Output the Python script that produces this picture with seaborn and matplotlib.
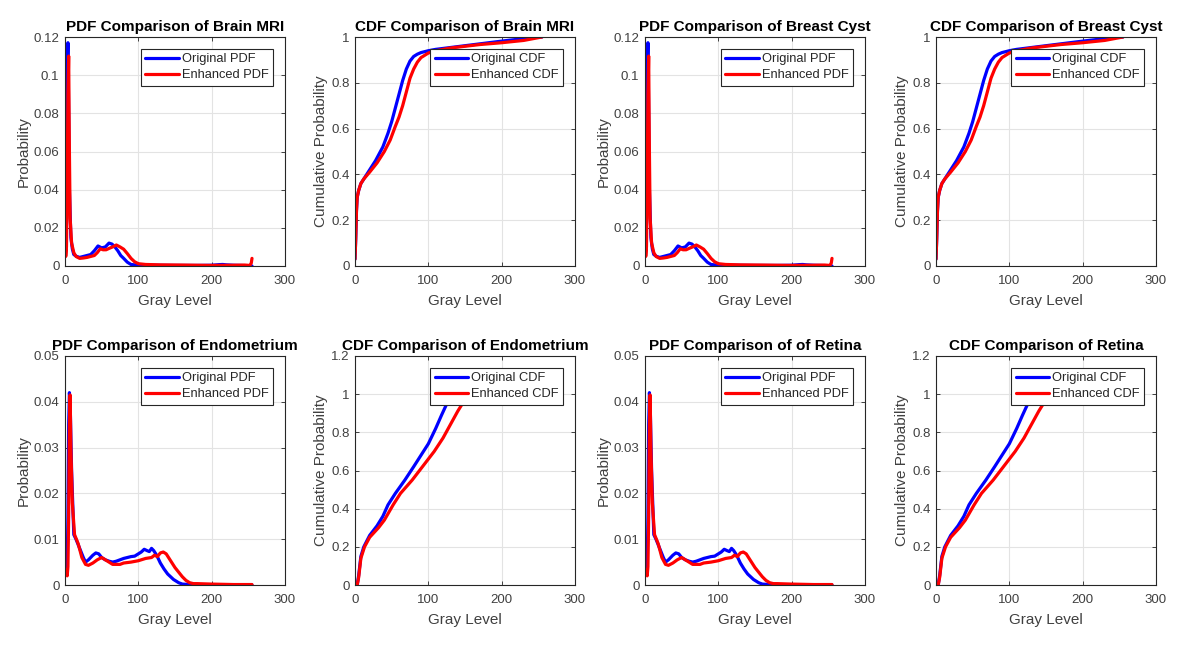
import numpy as np
import pandas as pd
import matplotlib
matplotlib.use("Agg")
import matplotlib.pyplot as plt
from matplotlib.ticker import FuncFormatter
import seaborn as sns

# ---------------- data ----------------
# Brain MRI PDF
brain_pdf_orig_x = [0, 1, 2, 3, 4, 5, 6, 8, 10, 12, 16, 20, 25, 30, 35, 40, 45, 50, 55, 60, 64, 68, 72, 76, 80, 85, 90, 95, 100, 120, 150, 180, 200, 210, 215, 220, 230, 240, 250, 255]
brain_pdf_orig_y = [0.006, 0.020, 0.075, 0.100, 0.117, 0.080, 0.040, 0.015, 0.009, 0.006, 0.005, 0.0045, 0.005, 0.0055, 0.006, 0.008, 0.0105, 0.0095, 0.010, 0.012, 0.0115, 0.010, 0.008, 0.0055, 0.004, 0.002, 0.0008, 0.0006, 0.0005, 0.0004, 0.0003, 0.0003, 0.0004, 0.0007, 0.0008, 0.0006, 0.0004, 0.0003, 0.0001, 0.0]
brain_pdf_enh_x = [0, 1, 2, 3, 4, 5, 6, 7, 9, 12, 15, 20, 25, 30, 35, 40, 44, 48, 52, 56, 60, 65, 70, 75, 80, 85, 90, 95, 100, 110, 130, 160, 200, 230, 245, 252, 254, 255]
brain_pdf_enh_y = [0.027, 0.005, 0.010, 0.040, 0.090, 0.110, 0.060, 0.025, 0.012, 0.007, 0.005, 0.004, 0.0042, 0.0045, 0.005, 0.0055, 0.007, 0.009, 0.0085, 0.0085, 0.0092, 0.0100, 0.0110, 0.0100, 0.0088, 0.0065, 0.004, 0.0022, 0.0012, 0.0008, 0.0006, 0.0005, 0.0003, 0.0004, 0.0005, 0.0003, 0.0015, 0.004]
# Brain MRI CDF
brain_cdf_orig_x = [0, 1, 2, 3, 5, 8, 12, 20, 28, 38, 45, 50, 55, 60, 65, 70, 75, 80, 85, 90, 100, 110, 150, 200, 230, 245, 255]
brain_cdf_orig_y = [0.03, 0.12, 0.24, 0.30, 0.33, 0.36, 0.38, 0.42, 0.46, 0.52, 0.58, 0.63, 0.69, 0.75, 0.81, 0.86, 0.895, 0.915, 0.925, 0.932, 0.940, 0.946, 0.962, 0.982, 0.993, 1.0, 1.0]
brain_cdf_enh_x = [0, 1, 2, 3, 5, 8, 12, 20, 30, 40, 48, 55, 60, 65, 70, 75, 80, 85, 90, 95, 100, 110, 130, 170, 200, 230, 255]
brain_cdf_enh_y = [0.03, 0.12, 0.24, 0.30, 0.33, 0.36, 0.38, 0.41, 0.45, 0.50, 0.55, 0.61, 0.65, 0.70, 0.76, 0.82, 0.86, 0.89, 0.91, 0.92, 0.93, 0.94, 0.952, 0.967, 0.975, 0.985, 1.0]

# Breast Cyst (looks identical to Brain MRI in the picture)
cyst_pdf_orig_x = list(brain_pdf_orig_x)
cyst_pdf_orig_y = list(brain_pdf_orig_y)
cyst_pdf_enh_x = list(brain_pdf_enh_x)
cyst_pdf_enh_y = list(brain_pdf_enh_y)
cyst_cdf_orig_x = list(brain_cdf_orig_x)
cyst_cdf_orig_y = list(brain_cdf_orig_y)
cyst_cdf_enh_x = list(brain_cdf_enh_x)
cyst_cdf_enh_y = list(brain_cdf_enh_y)

# Endometrium PDF
endo_pdf_orig_x = [0, 2, 3, 4, 5, 6, 7, 9, 12, 15, 20, 25, 28, 32, 38, 42, 46, 50, 55, 60, 65, 70, 75, 80, 85, 90, 95, 100, 104, 108, 112, 115, 118, 121, 125, 130, 135, 140, 148, 155, 160, 170, 180, 200, 230, 255]
endo_pdf_orig_y = [0.0035, 0.0035, 0.004, 0.015, 0.035, 0.042, 0.040, 0.025, 0.011, 0.010, 0.008, 0.006, 0.005, 0.0055, 0.0065, 0.007, 0.0068, 0.006, 0.0055, 0.0052, 0.005, 0.0052, 0.0055, 0.0058, 0.006, 0.0062, 0.0063, 0.0068, 0.0072, 0.0078, 0.0075, 0.0073, 0.008, 0.0075, 0.0065, 0.0048, 0.0035, 0.0024, 0.0012, 0.0005, 0.0002, 0.0001, 0.0001, 0.0, 0.0, 0.0]
endo_pdf_enh_x = [0, 2, 3, 4, 5, 6, 7, 8, 10, 13, 18, 23, 28, 32, 38, 44, 50, 55, 60, 65, 70, 75, 80, 90, 100, 110, 118, 122, 126, 130, 134, 138, 142, 146, 150, 155, 160, 165, 170, 175, 180, 200, 230, 255]
endo_pdf_enh_y = [0.0035, 0.0025, 0.002, 0.004, 0.015, 0.035, 0.0415, 0.030, 0.018, 0.011, 0.009, 0.006, 0.0045, 0.0043, 0.0048, 0.0055, 0.006, 0.0055, 0.005, 0.0045, 0.0045, 0.0045, 0.0048, 0.005, 0.0053, 0.0058, 0.006, 0.0065, 0.0062, 0.007, 0.0072, 0.0068, 0.0058, 0.0048, 0.0038, 0.0028, 0.0018, 0.001, 0.0005, 0.0003, 0.0003, 0.0002, 0.0001, 0.0001]
# Endometrium CDF
endo_cdf_orig_x = [0, 3, 5, 8, 12, 20, 30, 38, 45, 55, 68, 80, 90, 100, 110, 118, 124, 128, 133, 140, 200, 255]
endo_cdf_orig_y = [0.0, 0.0, 0.05, 0.15, 0.20, 0.26, 0.31, 0.36, 0.42, 0.48, 0.55, 0.62, 0.68, 0.74, 0.82, 0.89, 0.94, 0.97, 1.0, 1.0, 1.0, 1.0]
endo_cdf_enh_x = [0, 3, 5, 8, 13, 20, 32, 40, 52, 62, 78, 92, 108, 120, 130, 140, 148, 153, 160, 200, 255]
endo_cdf_enh_y = [0.0, 0.0, 0.04, 0.14, 0.20, 0.25, 0.30, 0.34, 0.42, 0.48, 0.55, 0.62, 0.70, 0.77, 0.84, 0.91, 0.96, 1.0, 1.0, 1.0, 1.0]

# Retina (looks identical to Endometrium in the picture)
ret_pdf_orig_x = list(endo_pdf_orig_x)
ret_pdf_orig_y = list(endo_pdf_orig_y)
ret_pdf_enh_x = list(endo_pdf_enh_x)
ret_pdf_enh_y = list(endo_pdf_enh_y)
ret_cdf_orig_x = list(endo_cdf_orig_x)
ret_cdf_orig_y = list(endo_cdf_orig_y)
ret_cdf_enh_x = list(endo_cdf_enh_x)
ret_cdf_enh_y = list(endo_cdf_enh_y)

titles = ["PDF Comparison of Brain MRI", "CDF Comparison of Brain MRI",
          "PDF Comparison of Breast Cyst", "CDF Comparison of Breast Cyst",
          "PDF Comparison of Endometrium", "CDF Comparison of Endometrium",
          "PDF Comparison of of Retina", "CDF Comparison of Retina"]
x_ticks = [0, 100, 200, 300]
pdf_top_yticks = [0, 0.02, 0.04, 0.06, 0.08, 0.1, 0.12]
cdf_top_yticks = [0, 0.2, 0.4, 0.6, 0.8, 1.0]
pdf_bot_yticks = [0, 0.01, 0.02, 0.03, 0.04, 0.05]
cdf_bot_yticks = [0, 0.2, 0.4, 0.6, 0.8, 1.0, 1.2]

# ---------------- style ----------------
sns.set_theme(style="white")
plt.rcParams['font.family'] = ['Liberation Sans', 'DejaVu Sans']
TXT = "#262626"
TICK = "#404040"

fig = plt.figure(figsize=(11.81, 6.45), dpi=100)
W, H = 1181, 645
lefts = [65, 355, 645, 936]
tops = [37, 356]
aw, ah = 220, 229

panels = [
    (brain_pdf_orig_x, brain_pdf_orig_y, brain_pdf_enh_x, brain_pdf_enh_y, "pdf", pdf_top_yticks),
    (brain_cdf_orig_x, brain_cdf_orig_y, brain_cdf_enh_x, brain_cdf_enh_y, "cdf", cdf_top_yticks),
    (cyst_pdf_orig_x, cyst_pdf_orig_y, cyst_pdf_enh_x, cyst_pdf_enh_y, "pdf", pdf_top_yticks),
    (cyst_cdf_orig_x, cyst_cdf_orig_y, cyst_cdf_enh_x, cyst_cdf_enh_y, "cdf", cdf_top_yticks),
    (endo_pdf_orig_x, endo_pdf_orig_y, endo_pdf_enh_x, endo_pdf_enh_y, "pdf", pdf_bot_yticks),
    (endo_cdf_orig_x, endo_cdf_orig_y, endo_cdf_enh_x, endo_cdf_enh_y, "cdf", cdf_bot_yticks),
    (ret_pdf_orig_x, ret_pdf_orig_y, ret_pdf_enh_x, ret_pdf_enh_y, "pdf", pdf_bot_yticks),
    (ret_cdf_orig_x, ret_cdf_orig_y, ret_cdf_enh_x, ret_cdf_enh_y, "cdf", cdf_bot_yticks),
]

fmt = FuncFormatter(lambda v, p: ("%g" % round(v, 4)))

for i, (ox, oy, ex, ey, kind, yt) in enumerate(panels):
    r, c = divmod(i, 4)
    left = lefts[c] / W
    bottom = 1 - (tops[r] + ah) / H
    ax = fig.add_axes([left, bottom, aw / W, ah / H])
    lab = "PDF" if kind == "pdf" else "CDF"
    sns.lineplot(x=ox, y=oy, ax=ax, color="#0000ff", lw=2.3, label="Original " + lab, sort=False)
    sns.lineplot(x=ex, y=ey, ax=ax, color="#ff0000", lw=2.3, label="Enhanced " + lab, sort=False)
    ax.set_xlim(0, 300)
    ax.set_ylim(yt[0], yt[-1])
    ax.set_xticks(x_ticks)
    ax.set_yticks(yt)
    ax.yaxis.set_major_formatter(fmt)
    ax.grid(True, color="#e3e3e3", lw=0.8)
    ax.set_axisbelow(True)
    for s in ax.spines.values():
        s.set_color(TXT)
        s.set_linewidth(0.8)
    ax.tick_params(direction="in", length=3, width=0.6, colors=TXT, labelcolor=TICK,
                   labelsize=9.5, top=True, right=True, bottom=True, left=True)
    ax.tick_params(axis="x", pad=6.5)
    ax.tick_params(axis="y", pad=4)
    ax.set_title(titles[i], fontsize=11, fontweight="bold", color="black", pad=4)
    ax.set_xlabel("Gray Level", fontsize=11, color=TICK, labelpad=5)
    ax.set_ylabel("Probability" if kind == "pdf" else "Cumulative Probability",
                  fontsize=11, color=TICK, labelpad=2)
    leg = ax.legend(loc="upper right", fontsize=9.3, frameon=True, fancybox=False,
                    handlelength=2.6, handletextpad=0.25, borderpad=0.35, labelspacing=0.3,
                    borderaxespad=0.9, framealpha=1.0)
    leg.get_frame().set_edgecolor("#262626")
    leg.get_frame().set_linewidth(0.8)
    leg.set_zorder(10)

fig.savefig("out.png", dpi=100, facecolor="white")
